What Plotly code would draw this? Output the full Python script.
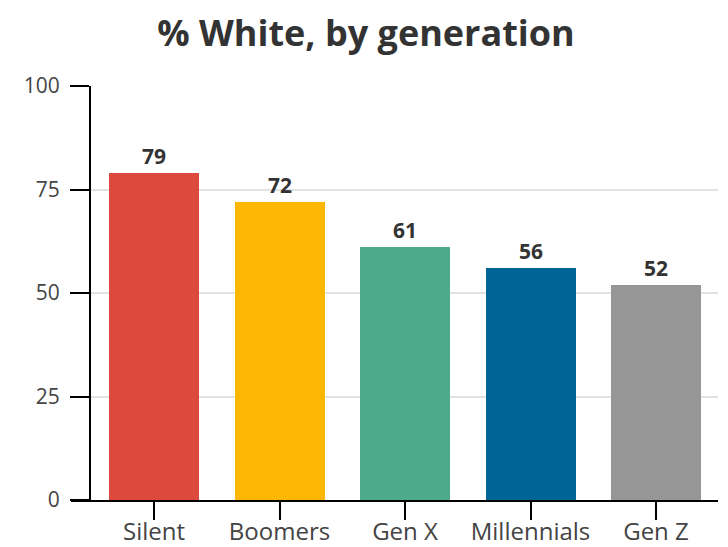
import plotly.graph_objects as go

categories = ["Silent", "Boomers", "Gen X", "Millennials", "Gen Z"]
values = [79, 72, 61, 56, 52]
colors = ["#DD4A3D", "#FDB704", "#4DAA8B", "#006496", "#969696"]
y_ticks = [0, 25, 50, 75, 100]

# page body has an 8px margin, so the figure is drawn 8px in from the corner
OFF = 8
W, H = 728 - OFF, 547 - OFF
FONT = "Open Sans"

# pixel layout (in screenshot coords)
x_left, x_right = 71, 718
y_top, y_bottom = 86, 500
yaxis_px = 90
first_center, step = 154, 125.5
bar_px = 90

xr0 = (x_left - first_center) / step
xr1 = (x_right - first_center) / step

fig = go.Figure()
fig.add_trace(go.Bar(
    x=list(range(len(categories))),
    y=values,
    marker=dict(color=colors, line=dict(width=0)),
    width=bar_px / step,
    text=[str(v) for v in values],
    textposition="outside",
    textfont=dict(family=FONT, size=21, color="#333333", weight="bold"),
    cliponaxis=False,
    hoverinfo="skip",
))

fig.update_layout(
    width=W, height=H,
    autosize=False,
    margin=dict(l=0, r=0, t=0, b=0, autoexpand=False),
    paper_bgcolor="white", plot_bgcolor="white",
    showlegend=False,
    title=dict(text="<b>% White, by generation</b>", x=(366 - OFF) / W, xanchor="center",
               y=1 - (46 - OFF) / H, yanchor="bottom", yref="paper", automargin=False,
               font=dict(family=FONT, size=36, color="#333333")),
    xaxis=dict(
        domain=[(x_left - OFF) / W, (x_right - OFF) / W],
        range=[xr0, xr1],
        automargin=False,
        tickmode="array",
        tickvals=list(range(len(categories))),
        ticktext=categories,
        showline=True, linecolor="black", linewidth=2,
        ticks="outside", ticklen=18, tickwidth=2, tickcolor="black",
        tickfont=dict(family=FONT, size=24, color="#444444"),
        ticklabelstandoff=-9,
        showgrid=False, zeroline=False,
    ),
    yaxis=dict(
        domain=[1 - (y_bottom - OFF) / H, 1 - (y_top - OFF) / H],
        range=[0, 100],
        automargin=False,
        anchor="free", position=(yaxis_px - OFF) / W,
        tickmode="array", tickvals=y_ticks,
        showline=True, linecolor="black", linewidth=2,
        ticks="outside", ticklen=19, tickwidth=2, tickcolor="black",
        tickfont=dict(family=FONT, size=21, color="#444444"),
        ticklabelstandoff=6,
        showgrid=True, gridcolor="#E2E2E2", gridwidth=2,
        zeroline=False,
    ),
    bargap=0,
)

fig.write_html("out.html")
